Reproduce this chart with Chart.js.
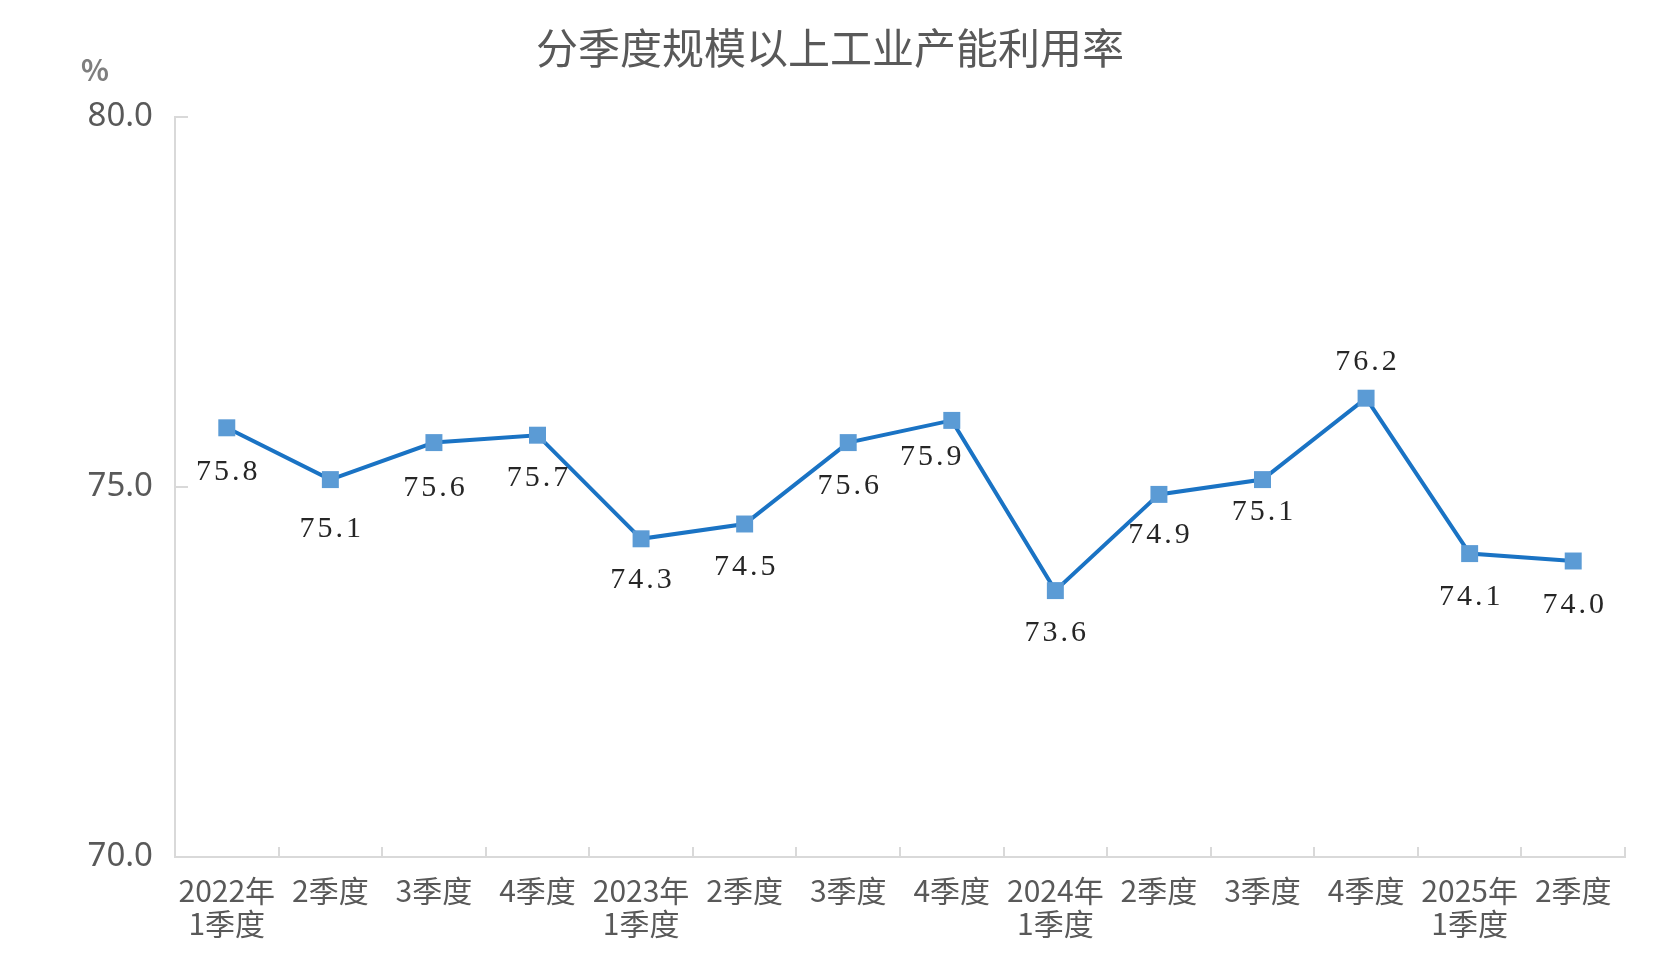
<!DOCTYPE html>
<html>
<head>
<meta charset="utf-8">
<script src="https://cdn.jsdelivr.net/npm/chart.js@4.4.1/dist/chart.umd.min.js"></script>
<style>
    html, body { margin: 0; padding: 0; background: #ffffff; }
    #wrap { width: 1660px; height: 965px; }
</style>
</head>
<body>
<div id="wrap"><canvas id="chart" width="1660" height="965"></canvas></div>
<script>
// 数据
const quarters = [
    ['2022年', '1季度'], '2季度', '3季度', '4季度',
    ['2023年', '1季度'], '2季度', '3季度', '4季度',
    ['2024年', '1季度'], '2季度', '3季度', '4季度',
    ['2025年', '1季度'], '2季度'
];
const utilization = [75.8, 75.1, 75.6, 75.7, 74.3, 74.5, 75.6, 75.9, 73.6, 74.9, 75.1, 76.2, 74.1, 74.0];
const yTicks = [70, 75, 80];
const chartTitle = '分季度规模以上工业产能利用率';
const unitLabel = '%';

const axisColor = '#d9d9d9';
const textColor = '#595959';

// 标题和单位
const titlePlugin = {
    id: 'titleText',
    afterDraw(chart) {
        const ctx = chart.ctx;
        ctx.save();
        ctx.fillStyle = textColor;
        ctx.textAlign = 'center';
        ctx.textBaseline = 'middle';
        ctx.font = '42px "Noto Sans CJK SC"';
        ctx.fillText(chartTitle, 830, 48);
        ctx.font = 'bold 29px "Noto Sans CJK SC"';
        ctx.fillStyle = '#7f7f7f';
        ctx.fillText(unitLabel, 95, 70);
        ctx.restore();
    }
};

// 刻度线朝内
const innerTicks = {
    id: 'innerTicks',
    afterDraw(chart) {
        const ctx = chart.ctx;
        const xs = chart.scales.x;
        const ys = chart.scales.y;
        ctx.save();
        ctx.strokeStyle = axisColor;
        ctx.lineWidth = 2;
        ctx.beginPath();
        for (let i = 1; i <= quarters.length; i++) {
            const x = Math.round(xs.getPixelForValue(i - 0.5));
            ctx.moveTo(x, ys.bottom);
            ctx.lineTo(x, ys.bottom - 10);
        }
        yTicks.forEach(v => {
            const y = Math.round(ys.getPixelForValue(v));
            ctx.moveTo(xs.left, y);
            ctx.lineTo(xs.left + 13, y);
        });
        ctx.stroke();
        ctx.restore();
    }
};

// 数据标签（相对数据点的偏移）
const labelOffsets = [44, 50, 46, 43, 41, 43, 44, 37, 43, 41, 33, -36, 44, 44];
const labelShiftX = [0, 0, 0, 0, 0, 0, 0, -21, 0, 0, 0, 0, 0, 0];
const valueLabels = {
    id: 'valueLabels',
    afterDatasetsDraw(chart) {
        const ctx = chart.ctx;
        const meta = chart.getDatasetMeta(0);
        ctx.save();
        ctx.fillStyle = '#262626';
        ctx.font = '30px "Liberation Serif"';
        ctx.letterSpacing = '3px';
        ctx.textAlign = 'center';
        ctx.textBaseline = 'middle';
        meta.data.forEach((pt, i) => {
            ctx.fillText(utilization[i].toFixed(1), pt.x + labelShiftX[i] + 1.5, pt.y + labelOffsets[i]);
        });
        ctx.restore();
    }
};

const ctx = document.getElementById('chart').getContext('2d');
new Chart(ctx, {
    type: 'line',
    data: {
        labels: quarters,
        datasets: [{
            data: utilization,
            borderColor: '#1a73c4',
            borderWidth: 4,
            pointStyle: 'rect',
            pointRadius: 12,
            pointHoverRadius: 12,
            pointBackgroundColor: '#5b9bd5',
            pointBorderWidth: 0,
            tension: 0,
            fill: false
        }]
    },
    options: {
        responsive: false,
        animation: false,
        events: [],
        layout: { padding: { top: 117, right: 35, bottom: 0, left: 0 } },
        plugins: {
            legend: { display: false },
            title: { display: false },
            tooltip: { enabled: false }
        },
        scales: {
            x: {
                type: 'category',
                offset: true,
                grid: { display: false, drawTicks: false },
                border: { display: true, color: axisColor, width: 2 },
                ticks: {
                    color: textColor,
                    padding: 17,
                    autoSkip: false,
                    maxRotation: 0,
                    font: { family: '"Noto Sans CJK SC"', size: 30, lineHeight: 1.1 }
                },
                afterFit(scale) { scale.height = 108; }
            },
            y: {
                min: 70,
                max: 80,
                afterBuildTicks(scale) { scale.ticks = yTicks.map(v => ({ value: v })); },
                grid: { display: false, drawTicks: false },
                border: { display: true, color: axisColor, width: 2 },
                ticks: {
                    color: textColor,
                    padding: 22,
                    font: { family: '"Noto Sans"', size: 33 },
                    callback: v => Number(v).toFixed(1)
                },
                afterFit(scale) { scale.width = 175; }
            }
        }
    },
    plugins: [titlePlugin, innerTicks, valueLabels]
});
</script>
</body>
</html>
